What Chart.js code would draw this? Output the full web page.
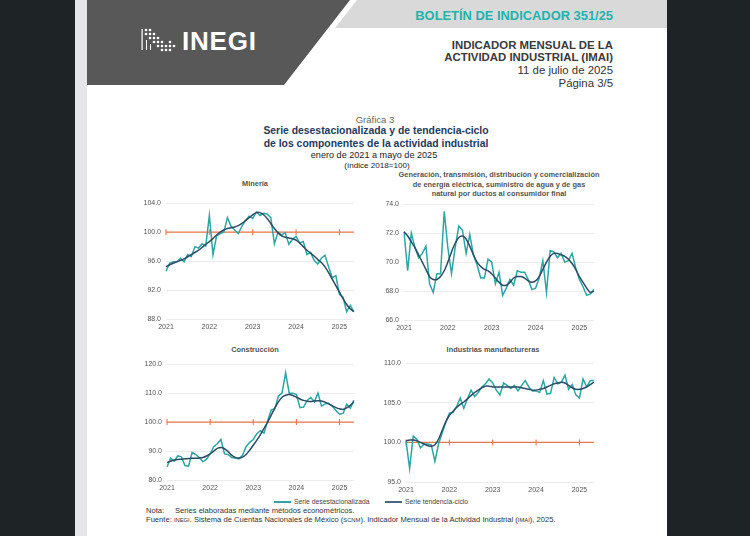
<!DOCTYPE html>
<html>
<head>
<meta charset="utf-8">
<script src="https://cdn.jsdelivr.net/npm/chart.js@4"></script>
<style>
  body { margin: 0; width: 750px; height: 536px; background: #1e2326; position: relative; overflow: hidden; font-family: "Liberation Sans", Arial, sans-serif; }
  .abs { position: absolute; }
  #strip { left: 75px; top: 0; width: 12px; height: 536px; background: #e6e6ea; }
  #page { left: 87px; top: 0; width: 580px; height: 536px; background: #fff; }
  .hdr { right: 137px; text-align: right; white-space: nowrap; color: #333; font-size: 11.4px; line-height: 13px; }
  .ctr { text-align: center; white-space: nowrap; transform: translateX(-50%); }
  .ptitle { font-size: 7.4px; font-weight: bold; color: #555; line-height: 9.6px; }
  .box { position: absolute; }
  .leg { font-size: 6.8px; color: #444; top: 498px; line-height: 8px; white-space: nowrap; }
  .note { left: 146px; font-size: 7.6px; color: #333; white-space: nowrap; line-height: 9px; }
  .sc { font-size: 5.8px; }
</style>
</head>
<body>
<div id="strip" class="abs"></div>
<div id="page" class="abs"></div>
<svg class="abs" style="left:0;top:0" width="750" height="100">
  <polygon points="87,0 350,0 284,85 87,85" fill="#585858"/>
  <polygon points="357,0 667,0 667,28 335,28" fill="#d9d9d9"/>
  <g fill="#fff">
    <rect x="141.5" y="29" width="1.2" height="21"/>
    <circle cx="146" cy="30" r="1.3"/><circle cx="150" cy="30" r="1.3"/>
    <circle cx="146" cy="34" r="1.3"/><circle cx="150" cy="34" r="1.3"/><circle cx="154" cy="34" r="1.3"/>
    <circle cx="150" cy="38" r="1.3"/><circle cx="154" cy="38" r="1.3"/><circle cx="158" cy="38" r="1.3"/>
    <circle cx="154" cy="42" r="1.3"/><circle cx="158" cy="42" r="1.3"/><circle cx="162" cy="42" r="1.3"/><circle cx="170" cy="42" r="1.3"/>
    <circle cx="158" cy="46" r="1.3"/><circle cx="162" cy="46" r="1.3"/><circle cx="166" cy="46" r="1.3"/><circle cx="170" cy="46" r="1.3"/><circle cx="174" cy="46" r="1.3"/>
    <circle cx="162" cy="50" r="1.3"/><circle cx="166" cy="50" r="1.3"/><circle cx="170" cy="50" r="1.3"/>
    <rect x="146" y="40" width="1" height="10"/><rect x="150" y="44" width="1" height="6"/>
  </g>
  <text x="182" y="50" fill="#fff" font-family="Liberation Sans" font-weight="bold" font-size="26" letter-spacing="0.8">INEGI</text>
</svg>

<div class="abs hdr" style="top:9px;color:#1fb3ad;font-weight:bold;font-size:12.9px">BOLETÍN DE INDICADOR 351/25</div>
<div class="abs hdr" style="top:38.5px;font-weight:bold;color:#3a3a3a">INDICADOR MENSUAL DE LA</div>
<div class="abs hdr" style="top:51px;font-weight:bold;color:#3a3a3a">ACTIVIDAD INDUSTRIAL (IMAI)</div>
<div class="abs hdr" style="top:64px">11 de julio de 2025</div>
<div class="abs hdr" style="top:77px">Página 3/5</div>

<div class="abs ctr" style="left:375px;top:114px;font-size:9.5px;color:#666">Gráfica 3</div>
<div class="abs ctr" style="left:376px;top:125px;font-size:10.4px;font-weight:bold;color:#1f3a5c;line-height:12.6px">Serie desestacionalizada y de tendencia-ciclo<br>de los componentes de la actividad industrial</div>
<div class="abs ctr" style="left:374px;top:150px;font-size:9.1px;color:#222">enero de 2021 a mayo de 2025</div>
<div class="abs ctr" style="left:377px;top:161px;font-size:8.1px;color:#222">(índice 2018=100)</div>

<div class="abs ctr ptitle" style="left:255px;top:179px">Minería</div>
<div class="abs ctr ptitle" style="left:499px;top:170px">Generación, transmisión, distribución y comercialización<br>de energía eléctrica, suministro de agua y de gas<br>natural por ductos al consumidor final</div>
<div class="abs ctr ptitle" style="left:255px;top:345px">Construcción</div>
<div class="abs ctr ptitle" style="left:493px;top:345px">Industrias manufactureras</div>

<div class="box" style="left:126px;top:194px;width:233px;height:141px"><canvas id="c1"></canvas></div>
<div class="box" style="left:364px;top:195px;width:234px;height:141px"><canvas id="c2"></canvas></div>
<div class="box" style="left:127px;top:355px;width:232px;height:141px"><canvas id="c3"></canvas></div>
<div class="box" style="left:366px;top:354px;width:233px;height:144px"><canvas id="c4"></canvas></div>

<div class="abs" style="left:274px;top:501px;width:17px;height:1.5px;background:#2ba6a2"></div>
<div class="abs leg" style="left:294px">Serie desestacionalizada</div>
<div class="abs" style="left:385px;top:501px;width:17px;height:1.5px;background:#4a6680"></div>
<div class="abs leg" style="left:405px">Serie tendencia-ciclo</div>
<div class="abs note" style="top:506px">Nota:<span style="position:absolute;left:29px">Series elaboradas mediante métodos econométricos.</span></div>
<div class="abs note" style="top:515px">Fuente: <span class="sc">INEGI</span>. Sistema de Cuentas Nacionales de México (<span class="sc">SCNM</span>). Indicador Mensual de la Actividad Industrial (<span class="sc">IMAI</span>), 2025.</div>

<script>
const years = ['2021', '2022', '2023', '2024', '2025'];
const monthsPerYear = 12;
const lastYearMonths = 5; // enero a mayo de 2025
const months = [];
years.forEach((y, k) => {
    const n = k === years.length - 1 ? lastYearMonths : monthsPerYear;
    for (let m = 1; m <= n; m++) months.push(y + '-' + m);
});
const baseValue = 100;

// Minería
const mineriaDes = [
    94.6, 95.7, 95.9, 95.9, 96.4, 95.9, 96.9, 96.6, 98.0, 97.8, 98.4, 98.1,
    102.3, 96.9, 99.5, 99.8, 100.0, 102.0, 100.8, 100.3, 99.8, 100.8, 101.6, 102.2,
    101.9, 102.8, 102.3, 102.6, 102.5, 102.0, 98.4, 100.0, 99.6, 99.9, 98.3, 99.0,
    99.4, 98.5, 98.7, 96.9, 97.2, 96.1, 95.6, 96.4, 96.8, 95.2, 93.7, 94.0,
    91.4, 91.0, 89.0, 89.9, 89.0
];
const mineriaTend = [
    95.2, 95.5, 95.7, 95.9, 96.1, 96.3, 96.6, 96.9, 97.2, 97.5, 97.9, 98.3,
    98.7, 99.1, 99.6, 100.0, 100.3, 100.5, 100.6, 100.7, 100.9, 101.2, 101.6, 102.0,
    102.4, 102.7, 102.7, 102.4, 101.9, 101.2, 100.5, 99.9, 99.5, 99.3, 99.2, 99.1,
    98.9, 98.5, 98.0, 97.5, 97.1, 96.7, 96.2, 95.8, 95.2, 94.4, 93.5, 92.6,
    91.7, 90.8, 90.0, 89.4, 89.0
];

// Electricidad, agua y gas
const energiaDes = [
    72.1, 69.4, 72.0, 71.0, 70.3, 70.6, 71.1, 68.5, 67.9, 69.2, 69.2, 73.5,
    71.0, 69.2, 71.0, 72.5, 72.2, 70.6, 71.9, 70.5, 69.8, 68.9, 68.9, 70.2,
    70.0, 68.5, 69.3, 67.7, 68.2, 68.8, 68.4, 69.4, 69.3, 69.3, 68.8, 68.1,
    68.2, 68.9, 70.1, 67.9, 70.8, 70.7, 70.3, 70.6, 70.0, 70.1, 70.6, 69.6,
    68.8, 68.3, 67.7, 67.8, 68.1
];
const energiaTend = [
    72.1, 71.8, 71.4, 71.0, 70.5, 70.0, 69.5, 69.0, 68.8, 68.8, 69.0, 69.4,
    70.0, 70.7, 71.3, 71.7, 71.8, 71.6, 71.1, 70.5, 70.0, 69.7, 69.5, 69.4,
    69.2, 68.9, 68.6, 68.4, 68.4, 68.6, 68.9, 69.0, 69.0, 68.9, 68.7, 68.6,
    68.7, 69.0, 69.5, 70.0, 70.4, 70.6, 70.6, 70.5, 70.4, 70.2, 69.9, 69.5,
    69.0, 68.6, 68.2, 67.9, 68.0
];

// Construcción
const construccionDes = [
    84.5, 87.5, 86.5, 88.3, 88.0, 85.0, 84.8, 89.5, 88.8, 87.7, 86.3, 87.2,
    89.0, 91.5, 92.5, 94.0, 89.0, 88.8, 87.8, 87.6, 87.3, 88.5, 91.5, 93.0,
    94.0, 96.0, 97.0, 96.2, 100.5, 104.2, 104.6, 109.0, 110.0, 117.0, 110.0, 110.0,
    109.5, 105.0, 105.2, 107.5, 108.5, 107.0, 110.0, 105.5, 106.3, 106.5, 105.5, 104.0,
    102.7, 103.0, 106.2, 104.8, 107.6
];
const construccionTend = [
    86.0, 86.5, 86.9, 87.1, 87.2, 87.3, 87.4, 87.5, 87.5, 87.6, 87.8, 88.3,
    89.0, 90.0, 90.9, 91.2, 90.8, 89.8, 88.6, 87.8, 87.6, 87.9, 88.8, 90.3,
    92.0, 93.8, 95.7, 97.8, 100.0, 102.4, 104.8, 107.0, 108.6, 109.3, 109.5, 109.2,
    108.6, 108.0, 107.5, 107.2, 107.1, 107.3, 107.4, 107.3, 106.9, 106.3, 105.6, 105.0,
    104.6, 104.4, 104.9, 105.8, 107.0
];

// Industrias manufactureras
const manufacturaDes = [
    100.2, 96.7, 100.8, 100.4, 99.3, 99.8, 99.8, 99.7, 97.6, 99.8, 101.2, 102.5,
    103.7, 103.8, 104.5, 105.6, 104.3, 105.5, 106.6, 105.8, 106.3, 107.0, 107.4, 108.0,
    107.5, 106.6, 106.0, 107.5, 107.2, 106.8, 107.2, 106.5, 107.2, 107.8, 107.0, 106.5,
    106.5, 106.3, 107.8, 106.1, 106.2, 108.2, 107.4, 107.6, 108.5, 106.7, 107.3, 106.0,
    105.6, 108.0, 107.0, 107.8, 107.8
];
const manufacturaTend = [
    100.2, 100.3, 100.3, 100.2, 100.0, 99.8, 99.6, 99.5, 99.7, 100.4, 101.5, 102.6,
    103.4, 103.9, 104.4, 104.8, 105.1, 105.5, 105.9, 106.3, 106.6, 106.9, 107.1, 107.1,
    107.0, 107.0, 107.0, 107.0, 107.0, 107.0, 107.0, 107.0, 106.9, 106.8, 106.7, 106.6,
    106.6, 106.7, 106.8, 107.0, 107.2, 107.4, 107.5, 107.6, 107.5, 107.2, 106.9, 106.7,
    106.7, 106.8, 107.0, 107.3, 107.6
];

const teal = '#2ba6a2';
const navy = '#2b4b66';
const orange = '#e8784c';

Chart.defaults.font.family = '"Liberation Sans", Arial, sans-serif';
Chart.defaults.animation = false;

function panel(id, des, tend, yMin, yMax, step, withBase) {
    const datasets = [
        { data: tend, borderColor: navy, borderWidth: 1.5, pointRadius: 0, tension: 0.3 },
        { data: des, borderColor: teal, borderWidth: 1.5, pointRadius: 0 }
    ];
    if (withBase) {
        datasets.push({
            data: months.map(() => baseValue),
            borderColor: orange,
            borderWidth: 1.4,
            pointStyle: 'line',
            rotation: 90,
            pointRadius: ctx => ctx.dataIndex % monthsPerYear === 0 ? 3 : 0,
            pointBorderColor: orange,
            pointBorderWidth: 1.1
        });
    }
    new Chart(document.getElementById(id), {
        type: 'line',
        data: { labels: months, datasets: datasets },
        options: {
            responsive: true,
            maintainAspectRatio: false,
            layout: { padding: { top: 0, right: 4 } },
            plugins: { legend: { display: false }, tooltip: { enabled: false } },
            scales: {
                x: {
                    grid: { display: false, drawTicks: false },
                    border: { display: false },
                    ticks: {
                        autoSkip: false,
                        maxRotation: 0,
                        padding: 4,
                        color: '#555',
                        font: { size: 7 },
                        callback: (v, i) => i % monthsPerYear === 0 ? years[i / monthsPerYear] : ''
                    },
                    afterFit: s => { s.height = 16; }
                },
                y: {
                    min: yMin,
                    max: yMax,
                    grid: { color: '#ececec', drawTicks: false },
                    border: { display: false },
                    ticks: {
                        stepSize: step,
                        padding: 5,
                        color: '#555',
                        font: { size: 7 },
                        callback: v => v.toFixed(1)
                    },
                    afterFit: s => { s.width = 40; }
                }
            }
        }
    });
}

panel('c1', mineriaDes, mineriaTend, 88, 104, 4, true);
panel('c2', energiaDes, energiaTend, 66, 74, 2, false);
panel('c3', construccionDes, construccionTend, 80, 120, 10, true);
panel('c4', manufacturaDes, manufacturaTend, 95, 110, 5, true);
</script>
</body>
</html>
